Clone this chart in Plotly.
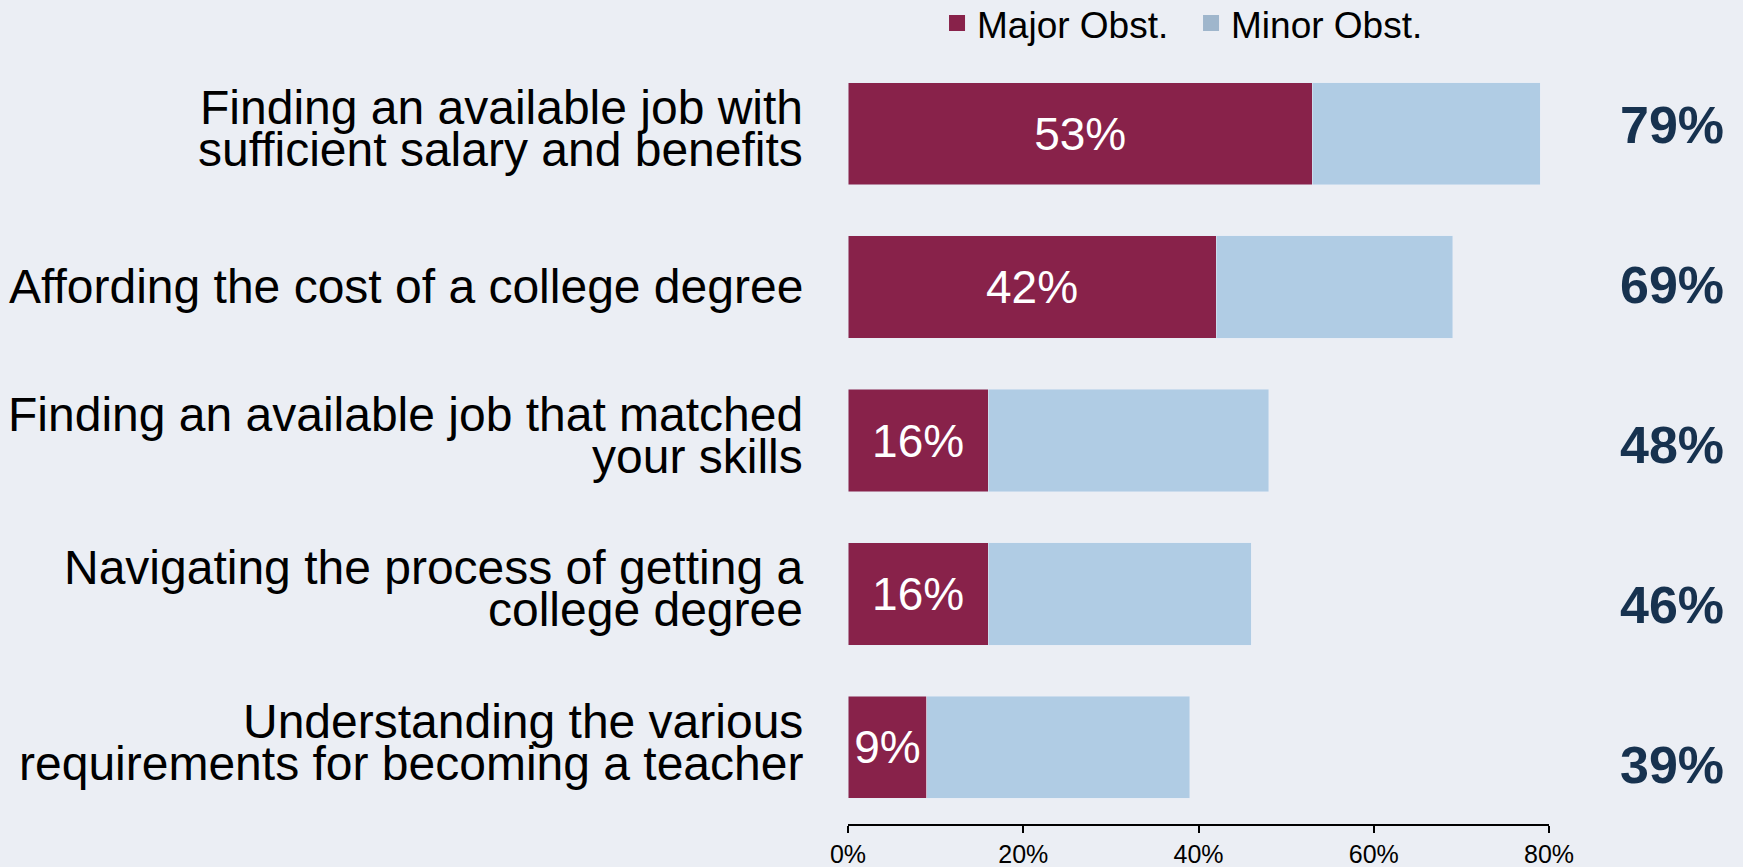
import plotly.graph_objects as go

# survey rows, top to bottom
categories = [
    "Finding an available job with<br>sufficient salary and benefits",
    "Affording the cost of a college degree",
    "Finding an available job that matched<br>your skills",
    "Navigating the process of getting a<br>college degree",
    "Understanding the various<br>requirements for becoming a teacher",
]
major = [53, 42, 16, 16, 9]
minor = [26, 27, 32, 30, 30]
totals = [79, 69, 48, 46, 39]
tick_vals = [0, 20, 40, 60, 80]
tick_text = ["0%", "20%", "40%", "60%", "80%"]
series_names = ["Major Obst.", "Minor Obst."]

BG = "#EBEEF4"
MAJOR_C = "#88224A"
MINOR_C = "#B0CCE4"
FONT = "Liberation Sans, Arial, sans-serif"
rows = list(range(len(categories)))

fig = go.Figure()
fig.add_trace(go.Bar(
    y=rows, x=major, orientation="h", name=series_names[0],
    marker_color=MAJOR_C, width=0.667, showlegend=False,
    text=[f"{v}%" for v in major], textposition="inside",
    insidetextanchor="middle", textangle=0,
    textfont=dict(color="white", size=46, family=FONT),
))
fig.add_trace(go.Bar(
    y=rows, x=minor, orientation="h", name=series_names[1],
    marker_color=MINOR_C, width=0.667, showlegend=False,
))

# legend entries with bigger square swatches
for name, col in zip(series_names, [MAJOR_C, "#9FB6CC"]):
    fig.add_trace(go.Scatter(
        x=[None], y=[None], mode="markers", name=name,
        marker=dict(symbol="square", size=20, color=col, line_width=0),
    ))

# totals on the right, placed on an overlaid axis (slightly wider spacing)
for i, v in enumerate(totals):
    fig.add_annotation(
        text=f"<b>{v}%</b>", xref="paper", x=1.175, xanchor="center",
        yref="y2", y=i, yanchor="middle", showarrow=False,
        font=dict(color="#17324F", size=52, family=FONT),
    )

# category labels, one annotation per line for the tight line spacing
for i, lab in enumerate(categories):
    lines = lab.split("<br>")
    n = len(lines)
    for j, ln in enumerate(lines):
        fig.add_annotation(
            text=ln, xref="paper", x=0, xanchor="right", xshift=-43,
            yref="y", y=i, yanchor="middle",
            yshift=5 + (n - 1) * 21 - j * 42 if n > 1 else 1,
            showarrow=False,
            font=dict(size=48, color="black", family=FONT),
        )

fig.update_layout(
    width=1743, height=867,
    barmode="stack",
    paper_bgcolor=BG, plot_bgcolor=BG,
    margin=dict(l=848, r=194, t=57, b=43, autoexpand=False),
    font=dict(family=FONT, color="black"),
    legend=dict(
        orientation="h", x=0.127, y=1.084, xanchor="left", yanchor="top",
        font=dict(size=37), bgcolor="rgba(0,0,0,0)", traceorder="normal",
        entrywidth=209, itemwidth=30,
    ),
    xaxis=dict(
        range=[0, 80], tickvals=tick_vals, ticktext=tick_text,
        showgrid=False, zeroline=False,
        showline=True, linecolor="black", linewidth=1.5,
        ticks="outside", ticklen=7, tickwidth=1.5, tickcolor="black",
        tickfont=dict(size=25, color="black"),
    ),
    yaxis=dict(
        range=[4.5, -0.5], showticklabels=False, showgrid=False,
        zeroline=False, showline=False,
    ),
    yaxis2=dict(
        overlaying="y", anchor="x", range=[4.367, -0.427],
        showticklabels=False, showgrid=False, zeroline=False, showline=False,
    ),
)

fig.write_html("out.html", config={"displayModeBar": False},
               post_script="document.body.style.margin='0';")
